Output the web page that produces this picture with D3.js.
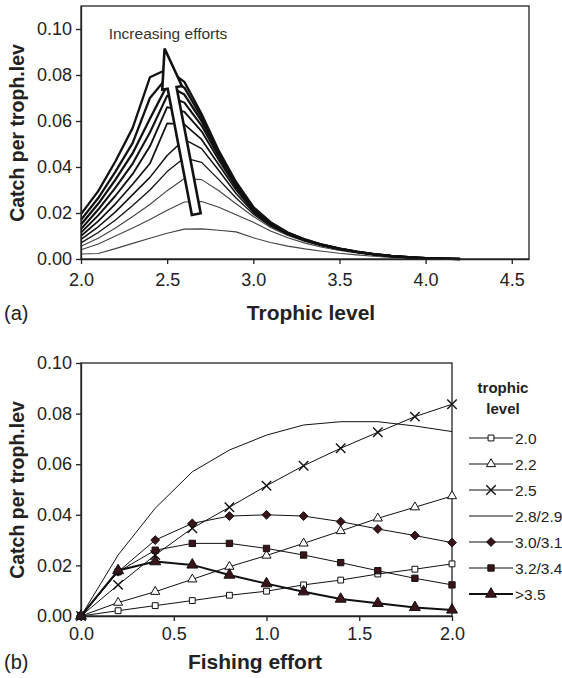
<!DOCTYPE html>
<html>
<head>
<meta charset="utf-8">
<script src="https://cdnjs.cloudflare.com/ajax/libs/d3/7.8.5/d3.min.js"></script>
<style>
  body { margin: 0; background: #fff; }
  svg text { font-family: "Liberation Sans", Arial, sans-serif; fill: #222; }
  .axis path, .axis line { stroke: #222; stroke-width: 1.3; }
</style>
</head>
<body>
<div id="chart"></div>
<script>
// ---- panel (a): catch per trophic level, one curve per effort level ----
const trophLevels = [2.0, 2.1, 2.2, 2.3, 2.4, 2.5, 2.6, 2.7, 2.8, 2.9, 3.0, 3.1, 3.2, 3.3, 3.4, 3.5, 3.6, 3.7, 3.8, 3.9, 4.0, 4.1, 4.2];

const effortCurves = [
  [.0022, .0024, .0045, .0068, .0090, .0112, .0130, .0131, .0125, .0118, .0092, .0072, .0056, .0044, .0034, .0025, .0018, .0012, .0007, .0004, .0002, .0001, 0],
  [.0040, .0065, .0100, .0135, .0172, .0212, .0248, .0250, .0225, .0192, .0160, .0122, .0092, .0069, .0051, .0037, .0026, .0017, .0010, .0006, .0003, .0001, 0],
  [.0055, .0090, .0135, .0185, .0237, .0297, .0350, .0345, .0297, .0240, .0185, .0137, .0102, .0076, .0056, .0040, .0028, .0018, .0011, .0006, .0003, .0001, 0],
  [.0070, .0115, .0170, .0233, .0300, .0380, .0440, .0420, .0345, .0265, .0195, .0143, .0106, .0079, .0058, .0042, .0029, .0019, .0012, .0007, .0004, .0002, 0],
  [.0085, .0140, .0205, .0280, .0355, .0450, .0520, .0480, .0385, .0285, .0202, .0147, .0108, .0080, .0059, .0043, .0030, .0020, .0012, .0007, .0004, .0002, 0],
  [.0100, .0165, .0240, .0325, .0415, .0590, .0585, .0520, .0410, .0300, .0208, .0150, .0110, .0081, .0060, .0043, .0030, .0020, .0012, .0007, .0004, .0002, 0],
  [.0115, .0190, .0275, .0370, .0490, .0660, .0640, .0555, .0430, .0310, .0213, .0153, .0111, .0082, .0060, .0044, .0031, .0020, .0013, .0007, .0004, .0002, 0],
  [.0130, .0215, .0310, .0415, .0550, .0710, .0680, .0580, .0445, .0318, .0217, .0155, .0112, .0083, .0061, .0044, .0031, .0020, .0013, .0007, .0004, .0002, 0],
  [.0150, .0240, .0345, .0460, .0610, .0755, .0715, .0600, .0455, .0325, .0220, .0157, .0113, .0083, .0061, .0045, .0031, .0021, .0013, .0008, .0004, .0002, 0],
  [.0170, .0265, .0380, .0505, .0700, .0790, .0745, .0615, .0462, .0330, .0223, .0158, .0114, .0084, .0062, .0045, .0032, .0021, .0013, .0008, .0004, .0002, 0],
  [.0195, .0295, .0425, .0570, .0790, .0825, .0770, .0630, .0470, .0335, .0226, .0160, .0115, .0085, .0062, .0045, .0032, .0021, .0013, .0008, .0004, .0002, 0]
];

// ---- panel (b): catch vs fishing effort per trophic class ----
const efforts = [0, 0.2, 0.4, 0.6, 0.8, 1.0, 1.2, 1.4, 1.6, 1.8, 2.0];
const tl20   = [0, .0021, .0041, .0061, .0082, .0098, .0123, .0142, .0166, .0185, .0206];
const tl22   = [0, .0053, .0096, .0145, .0195, .0239, .0287, .0336, .0386, .0430, .0474];
const tl25   = [0, .0123, .0241, .0347, .0430, .0515, .0594, .0663, .0726, .0788, .0837];
const tl2829 = [0, .0241, .0426, .0570, .0656, .0715, .0755, .0768, .0768, .0751, .0729];
const tl3031 = [0, .0175, .0300, .0366, .0395, .0400, .0395, .0373, .0344, .0318, .0290];
const tl3234 = [0, .0175, .0260, .0287, .0287, .0267, .0241, .0211, .0179, .0149, .0123];
const tl35   = [0, .0180, .0215, .0202, .0162, .0128, .0096, .0067, .0050, .0034, .0024];

const seriesNames = ["2.0", "2.2", "2.5", "2.8/2.9", "3.0/3.1", "3.2/3.4", ">3.5"];

const yTicksA = [0, 0.02, 0.04, 0.06, 0.08, 0.10];
const xTicksA = [2.0, 2.5, 3.0, 3.5, 4.0, 4.5];
const xTicksB = [0, 0.5, 1.0, 1.5, 2.0];

const svg = d3.select("#chart").append("svg")
    .attr("width", 562)
    .attr("height", 678);

const darkFill = "#3a1419";

// ================= panel (a) =================
const xa = d3.scaleLinear().domain([2, 4.6]).range([81, 529]);
const ya = d3.scaleLinear().domain([0, 0.11]).range([259, 6]);

const gA = svg.append("g");

gA.append("rect")
    .attr("x", 81).attr("y", 6)
    .attr("width", 448).attr("height", 253)
    .attr("fill", "none").attr("stroke", "#222").attr("stroke-width", 1.3);

const lineA = d3.line()
    .x((d, i) => xa(trophLevels[i]))
    .y(d => ya(d));

effortCurves.forEach((vals, i) => {
    gA.append("path")
        .datum(vals)
        .attr("d", lineA)
        .attr("fill", "none")
        .attr("stroke", i < 3 ? "#444" : "#111")
        .attr("stroke-width", i < 3 ? 1.1 : Math.min(2.3, 1.3 + (i - 3) * 0.2))
        .attr("stroke-linejoin", "round");
});

gA.append("g").attr("class", "axis")
    .attr("transform", "translate(81,0)")
    .call(d3.axisLeft(ya).tickValues(yTicksA).tickFormat(d3.format(".2f")).tickSize(5).tickSizeOuter(0).tickPadding(4))
    .call(g => g.selectAll("text").style("font-size", "18px"));

gA.append("g").attr("class", "axis")
    .attr("transform", "translate(0,259)")
    .call(d3.axisBottom(xa).tickValues(xTicksA).tickFormat(d3.format(".1f")).tickSize(5).tickSizeOuter(0).tickPadding(9))
    .call(g => g.selectAll("text").style("font-size", "18px"));

// hollow arrow
const tip = [xa(2.485), ya(0.0915)];
const tail = [xa(2.669), ya(0.0195)];
const dx = tip[0] - tail[0], dy = tip[1] - tail[1];
const len = Math.hypot(dx, dy);
const ux = dx / len, uy = dy / len;
const px = -uy, py = ux;
const headLen = 40, headHalf = 10, shaftHalf = 4.5;
const base = [tip[0] - ux * headLen, tip[1] - uy * headLen];
const arrowPts = [
    [tail[0] + px * shaftHalf, tail[1] + py * shaftHalf],
    [base[0] + px * shaftHalf, base[1] + py * shaftHalf],
    [base[0] + px * headHalf, base[1] + py * headHalf],
    tip,
    [base[0] - px * headHalf, base[1] - py * headHalf],
    [base[0] - px * shaftHalf, base[1] - py * shaftHalf],
    [tail[0] - px * shaftHalf, tail[1] - py * shaftHalf]
];
gA.append("polygon")
    .attr("points", arrowPts.map(p => p.join(",")).join(" "))
    .attr("fill", "#fff")
    .attr("stroke", "#111")
    .attr("stroke-width", 2.6)
    .attr("stroke-linejoin", "miter");

gA.append("text")
    .attr("x", 168).attr("y", 39)
    .attr("text-anchor", "middle")
    .style("font-size", "15.5px")
    .style("fill", "#333")
    .text("Increasing efforts");

gA.append("text")
    .attr("transform", "translate(24,133) rotate(-90)")
    .attr("text-anchor", "middle")
    .style("font-size", "19.5px").style("font-weight", "bold")
    .text("Catch per troph.lev");

gA.append("text")
    .attr("x", 311).attr("y", 320)
    .attr("text-anchor", "middle")
    .style("font-size", "21px").style("font-weight", "bold")
    .text("Trophic level");

gA.append("text")
    .attr("x", 4).attr("y", 320)
    .style("font-size", "20px")
    .text("(a)");

// ================= panel (b) =================
const xb = d3.scaleLinear().domain([0, 2]).range([81, 452]);
const yb = d3.scaleLinear().domain([0, 0.1]).range([616, 363]);

const gB = svg.append("g");

gB.append("rect")
    .attr("x", 81).attr("y", 363)
    .attr("width", 371).attr("height", 253)
    .attr("fill", "none").attr("stroke", "#222").attr("stroke-width", 1.3);

const seriesB = [
    { name: seriesNames[0], values: tl20,   symbol: d3.symbolSquare,   size: 34, fill: "#fff",   width: 1 },
    { name: seriesNames[1], values: tl22,   symbol: d3.symbolTriangle, size: 36, fill: "#fff",   width: 1 },
    { name: seriesNames[2], values: tl25,   symbol: d3.symbolTimes,    size: 60, fill: "none",   width: 1 },
    { name: seriesNames[3], values: tl2829, symbol: null,              size: 0,  fill: "none",   width: 1 },
    { name: seriesNames[4], values: tl3031, symbol: d3.symbolDiamond2, size: 50, fill: darkFill, width: 1 },
    { name: seriesNames[5], values: tl3234, symbol: d3.symbolSquare,   size: 40, fill: darkFill, width: 1 },
    { name: seriesNames[6], values: tl35,   symbol: d3.symbolTriangle, size: 52, fill: darkFill, width: 2 }
];

const lineB = d3.line()
    .x((d, i) => xb(efforts[i]))
    .y(d => yb(d));

seriesB.forEach(s => {
    gB.append("path")
        .datum(s.values)
        .attr("d", lineB)
        .attr("fill", "none")
        .attr("stroke", "#111")
        .attr("stroke-width", s.width);
});

seriesB.forEach(s => {
    if (!s.symbol) return;
    gB.append("g")
        .selectAll("path")
        .data(s.values)
        .join("path")
        .attr("transform", (d, i) => `translate(${xb(efforts[i])},${yb(d)})`)
        .attr("d", d3.symbol().type(s.symbol).size(s.size))
        .attr("fill", s.fill)
        .attr("stroke", "#111")
        .attr("stroke-width", s.symbol === d3.symbolTimes ? 1.4 : 1);
});

gB.append("g").attr("class", "axis")
    .attr("transform", "translate(81,0)")
    .call(d3.axisLeft(yb).tickValues(yTicksA).tickFormat(d3.format(".2f")).tickSize(5).tickSizeOuter(0).tickPadding(4))
    .call(g => g.selectAll("text").style("font-size", "18px"));

gB.append("g").attr("class", "axis")
    .attr("transform", "translate(0,616)")
    .call(d3.axisBottom(xb).tickValues(xTicksB).tickFormat(d3.format(".1f")).tickSize(5).tickSizeOuter(0).tickPadding(6))
    .call(g => g.selectAll("text").style("font-size", "18px"));

gB.append("text")
    .attr("transform", "translate(24,490) rotate(-90)")
    .attr("text-anchor", "middle")
    .style("font-size", "19.5px").style("font-weight", "bold")
    .text("Catch per troph.lev");

gB.append("text")
    .attr("x", 255).attr("y", 669)
    .attr("text-anchor", "middle")
    .style("font-size", "21px").style("font-weight", "bold")
    .text("Fishing effort");

gB.append("text")
    .attr("x", 4).attr("y", 669)
    .style("font-size", "20px")
    .text("(b)");

// legend
const legend = gB.append("g");
legend.append("text")
    .attr("x", 503).attr("y", 393)
    .attr("text-anchor", "middle")
    .style("font-size", "15px").style("font-weight", "bold")
    .text("trophic");
legend.append("text")
    .attr("x", 503).attr("y", 414)
    .attr("text-anchor", "middle")
    .style("font-size", "15px").style("font-weight", "bold")
    .text("level");

const legRow = d3.scaleLinear().domain([0, 6]).range([438, 594]);
seriesB.forEach((s, i) => {
    const yy = legRow(i);
    legend.append("line")
        .attr("x1", 469).attr("x2", 513)
        .attr("y1", yy).attr("y2", yy)
        .attr("stroke", "#111")
        .attr("stroke-width", s.width);
    if (s.symbol) {
        legend.append("path")
            .attr("transform", `translate(491,${yy})`)
            .attr("d", d3.symbol().type(s.symbol).size(s.size))
            .attr("fill", s.fill)
            .attr("stroke", "#111")
            .attr("stroke-width", s.symbol === d3.symbolTimes ? 1.4 : 1);
    }
    legend.append("text")
        .attr("x", 515).attr("y", yy + 5.5)
        .style("font-size", "15.5px")
        .text(s.name);
});
</script>
</body>
</html>
